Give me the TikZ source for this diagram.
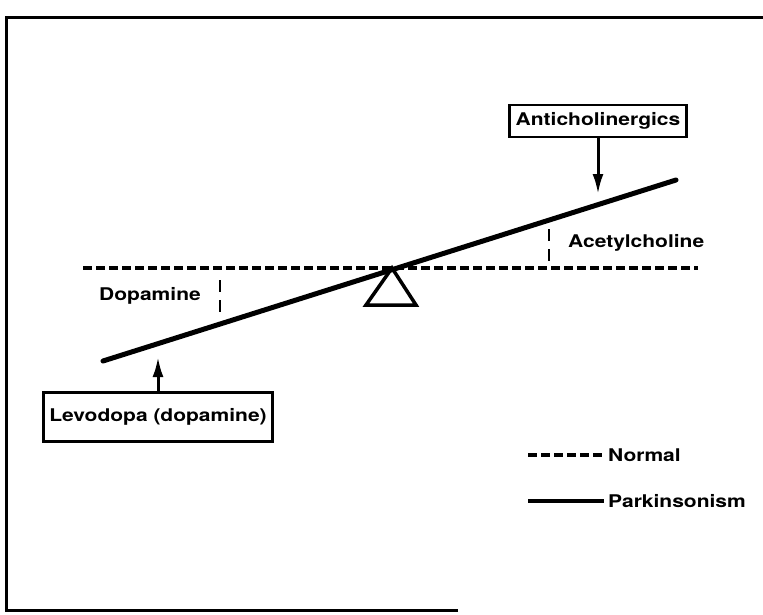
\documentclass[tikz,border=0pt]{standalone}
\usepackage{fontspec}
\newfontfamily\labelfont{TeX Gyre Heros}[FakeStretch=1.2]
\usetikzlibrary{arrows.meta,positioning}

\tikzset{
    txt/.style={font=\labelfont\bfseries\fontsize{17.5}{20}\selectfont, inner sep=0pt},
    drugbox/.style={txt, draw, line width=2.5pt, inner xsep=6pt, minimum height=32pt},
    push/.style={line width=3pt, -{Latex[length=20pt,width=11pt]}},
    normal/.style={line width=3.5pt, dash pattern=on 9pt off 4pt},
    parkinson/.style={line width=5pt, line cap=round},
    levelmark/.style={line width=2pt, dash pattern=on 12pt off 8pt},
}

\begin{document}
\begin{tikzpicture}[x=1pt, y=-1pt]
    \useasboundingbox (0,0) rectangle (763,614);

    % Frame
    \draw[line width=3pt] (458,610) -- (6,610) -- (6,17) -- (763,17);

    % Normal level
    \draw[normal] (83,268) -- (698,268);

    % Fulcrum
    \coordinate (pivot) at (392,268);
    \draw[line width=3.5pt, line join=miter] (pivot) -- (366,305) -- (416,305) -- cycle;

    % Beam (Parkinsonism)
    \coordinate (beamL) at (103,361);
    \coordinate (beamR) at (676,180);
    \draw[parkinson] (beamL) -- (beamR);

    % Drug boxes
    \node[drugbox] (anticho) at (598,121) {Anticholinergics};
    \node[drugbox, minimum height=49pt] (levodopa) at (158,417) {Levodopa (dopamine)};
    \coordinate (antitip) at (598,194);
    \coordinate (levotip) at (158,357);
    \draw[push] (anticho.south) -- (antitip);
    \draw[push] (levodopa.north) -- (levotip);

    % Transmitters
    \node[txt, anchor=west] (acetyl) at (568,243) {Acetylcholine};
    \node[txt] (dopa) at (150,296) {Dopamine};
    \draw[levelmark] (549,229) -- (549,262);
    \draw[levelmark] (220,280) -- (220,315);

    % Legend
    \node[txt, anchor=west] (normlab) at (608,455) {Normal};
    \node[txt, anchor=west] (parklab) at (608,501) {Parkinsonism};
    \draw[normal, shorten >=4pt] (528,455) -- (normlab.west);
    \draw[line width=4pt, shorten >=4pt] (528,501) -- (parklab.west);
\end{tikzpicture}
\end{document}
